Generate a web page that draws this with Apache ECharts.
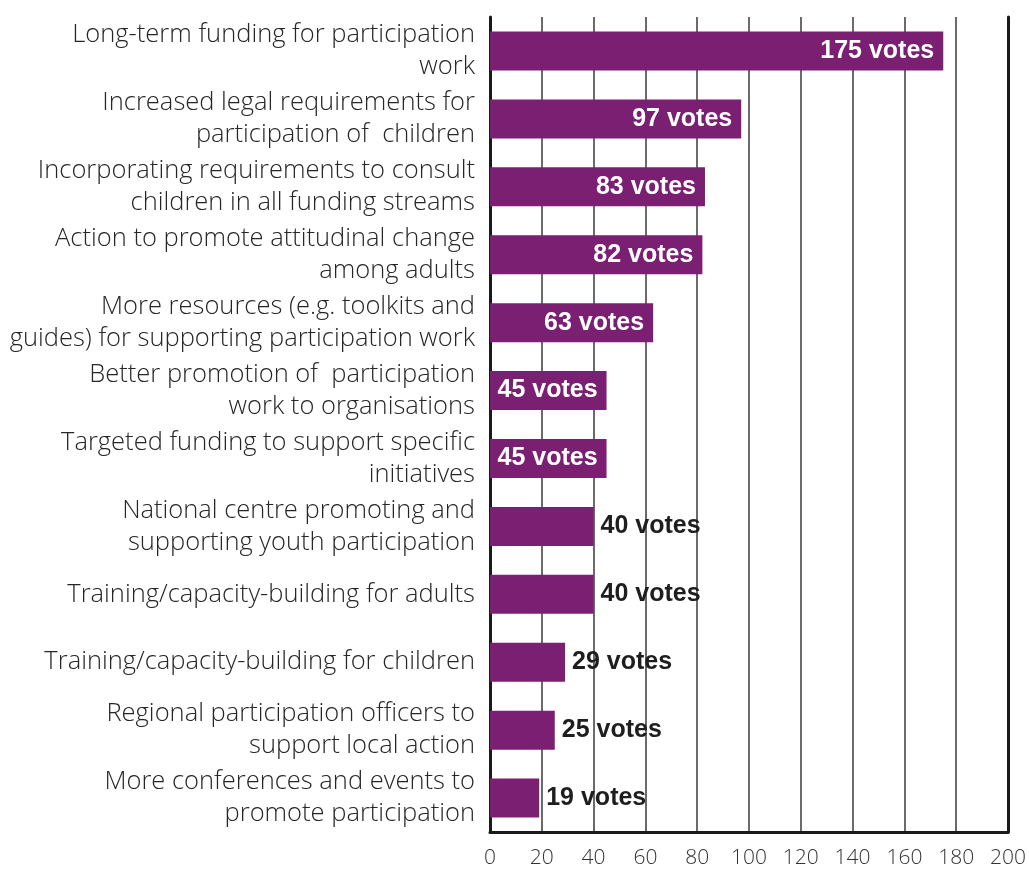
<!DOCTYPE html>
<html>
<head>
<meta charset="utf-8">
<script src="https://cdn.jsdelivr.net/npm/echarts@6/dist/echarts.min.js"></script>
<style>
  html, body { margin: 0; padding: 0; background: #ffffff; }
  #chart { width: 1029px; height: 870px; }
</style>
</head>
<body>
<div id="chart"></div>
<script>
// Suggested measures to support participation work, ranked by votes
const categories = [
  'Long-term funding for participation\nwork',
  'Increased legal requirements for\nparticipation of  children',
  'Incorporating requirements to consult\nchildren in all funding streams',
  'Action to promote attitudinal change\namong adults',
  'More resources (e.g. toolkits and\nguides) for supporting participation work',
  'Better promotion of  participation\nwork to organisations',
  'Targeted funding to support specific\ninitiatives',
  'National centre promoting and\nsupporting youth participation',
  'Training/capacity-building for adults',
  'Training/capacity-building for children',
  'Regional participation officers to\nsupport local action',
  'More conferences and events to\npromote participation'
];
const votes = [175, 97, 83, 82, 63, 45, 45, 40, 40, 29, 25, 19];
const xTicks = { min: 0, max: 200, interval: 20 };

// bars wide enough carry their label inside; short ones show it to the right
const insideThreshold = 45;

const barData = votes.map(v => {
  const inside = v >= insideThreshold;
  return {
    value: v,
    label: inside
      ? { position: 'insideRight', distance: 9, color: '#ffffff' }
      : { position: 'right', distance: 7, color: '#1e1e1e' }
  };
});

const frameLine = { show: true, onZero: false, lineStyle: { color: '#1a1a1a', width: 3 } };

const chart = echarts.init(document.getElementById('chart'), null, { renderer: 'canvas' });
chart.setOption({
  backgroundColor: '#ffffff',
  animation: false,
  grid: { left: 490, right: 21, top: 17, bottom: 38, containLabel: false },
  xAxis: {
    type: 'value',
    min: xTicks.min,
    max: xTicks.max,
    interval: xTicks.interval,
    axisLine: frameLine,
    axisTick: { show: false },
    axisLabel: {
      margin: 16,
      fontFamily: 'Open Sans',
      fontWeight: 300,
      fontSize: 21,
      color: '#333333'
    },
    splitLine: { show: true, lineStyle: { color: '#3a3a3a', width: 1.5 } }
  },
  yAxis: [{
    type: 'category',
    inverse: true,
    data: categories,
    axisLine: frameLine,
    axisTick: { show: false },
    axisLabel: {
      interval: 0,
      showMinLabel: true,
      showMaxLabel: true,
      hideOverlap: false,
      margin: 15,
      fontFamily: 'Open Sans',
      fontWeight: 300,
      fontSize: 25.5,
      lineHeight: 32,
      color: '#262626',
      align: 'right',
      padding: [8, 0, 0, 0]
    },
    splitLine: { show: false }
  }, {
    // right-hand frame edge of the plot
    type: 'category',
    position: 'right',
    inverse: true,
    data: categories,
    axisLine: frameLine,
    axisTick: { show: false },
    axisLabel: { show: false },
    splitLine: { show: false }
  }],
  series: [{
    type: 'bar',
    yAxisIndex: 0,
    data: barData,
    barWidth: 39,
    itemStyle: { color: '#7a1f72' },
    label: {
      show: true,
      formatter: p => p.value + ' votes',
      fontFamily: 'Liberation Sans',
      fontWeight: 'bold',
      fontSize: 25
    }
  }]
});
</script>
</body>
</html>
